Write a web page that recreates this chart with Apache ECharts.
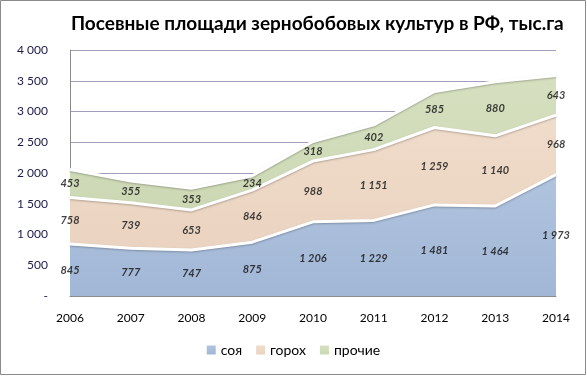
<!DOCTYPE html>
<html>
<head>
<meta charset="utf-8">
<title>Посевные площади</title>
<script src="https://cdn.jsdelivr.net/npm/echarts@6/dist/echarts.min.js"></script>
<style>
  html, body { margin:0; padding:0; background:#fff; }
  #chart { width:587px; height:376px; }
</style>
</head>
<body>
<div id="chart"></div>
<script>
var years = ['2006','2007','2008','2009','2010','2011','2012','2013','2014'];
var soy   = [845, 777, 747, 875, 1206, 1229, 1481, 1464, 1973];
var pea   = [758, 739, 653, 846, 988, 1151, 1259, 1140, 968];
var other = [453, 355, 353, 234, 318, 402, 585, 880, 643];
var names = ['соя', 'горох', 'прочие'];

function fmt(v) {
    if (v === 0) return '-';
    return String(v).replace(/\B(?=(\d{3})+(?!\d))/g, ' ');
}

// середины полос для подписей
function mids(vals, bases) {
    return vals.map(function (v, i) {
        var b = 0;
        bases.forEach(function (a) { b += a[i]; });
        return [i, b + v / 2, v];
    });
}

function grad(c1, c2) {
    return new echarts.graphic.LinearGradient(0, 0, 0, 1, [
        {offset: 0, color: c1}, {offset: 1, color: c2}
    ]);
}

var font = 'Lato, "Noto Sans", sans-serif';
var myChart = echarts.init(document.getElementById('chart'));

function areaSeries(name, data, fill) {
    return {
        name: name, type: 'line', stack: 'all', data: data,
        symbol: 'none', smooth: false,
        lineStyle: {color: '#ffffff', width: 3, shadowColor: 'rgba(0,0,0,0.25)', shadowBlur: 2, shadowOffsetY: 1},
        areaStyle: {color: fill, opacity: 1},
        itemStyle: {color: fill},
        z: 2
    };
}

function labelSeries(data) {
    return {
        type: 'scatter', data: data, symbolSize: 0, silent: true,
        label: {
            show: true, position: 'inside',
            formatter: function (p) { return fmt(p.data[2]); },
            fontFamily: font, fontSize: 11, fontStyle: 'italic', fontWeight: 'bold', color: '#111'
        },
        z: 5
    };
}

myChart.setOption({
    animation: false,
    title: {
        text: 'Посевные площади зернобобовых культур в РФ, тыс.га',
        left: 66, top: 9,
        textStyle: {fontFamily: font, fontSize: 19, fontWeight: 'bold', color: '#000'}
    },
    legend: {
        data: names, bottom: 14, left: 'center',
        itemWidth: 9, itemHeight: 9, itemGap: 14, icon: 'rect',
        textStyle: {fontFamily: font, fontSize: 14, color: '#000'}
    },
    grid: {left: 70, right: 31, top: 50, bottom: 80},
    xAxis: {
        type: 'category', data: years, boundaryGap: false,
        axisLine: {show: true, lineStyle: {color: '#8c8c8c'}},
        axisTick: {show: false},
        axisLabel: {fontFamily: font, fontSize: 12, color: '#000', margin: 16}
    },
    yAxis: {
        type: 'value', min: 0, max: 4000, interval: 500,
        axisLine: {show: true, lineStyle: {color: '#8c8c8c'}},
        axisTick: {show: false},
        splitLine: {lineStyle: {color: '#a49cbc'}},
        axisLabel: {fontFamily: font, fontSize: 12, color: '#1a1a4a', margin: 22, formatter: fmt}
    },
    graphic: [{
        type: 'rect', shape: {x: 0.5, y: 0.5, width: 585, height: 374},
        style: {fill: 'none', stroke: '#8a8a8a', lineWidth: 1}, z: 0
    }],
    series: [
        areaSeries(names[0], soy, grad('#b0c4df', '#a2b7d6')),
        areaSeries(names[1], pea, grad('#f0dccb', '#ead3c0')),
        areaSeries(names[2], other, grad('#d6e0c0', '#ccd8b4')),
        labelSeries(mids(soy, [])),
        labelSeries(mids(pea, [soy])),
        labelSeries(mids(other, [soy, pea]))
    ]
});
</script>
</body>
</html>
